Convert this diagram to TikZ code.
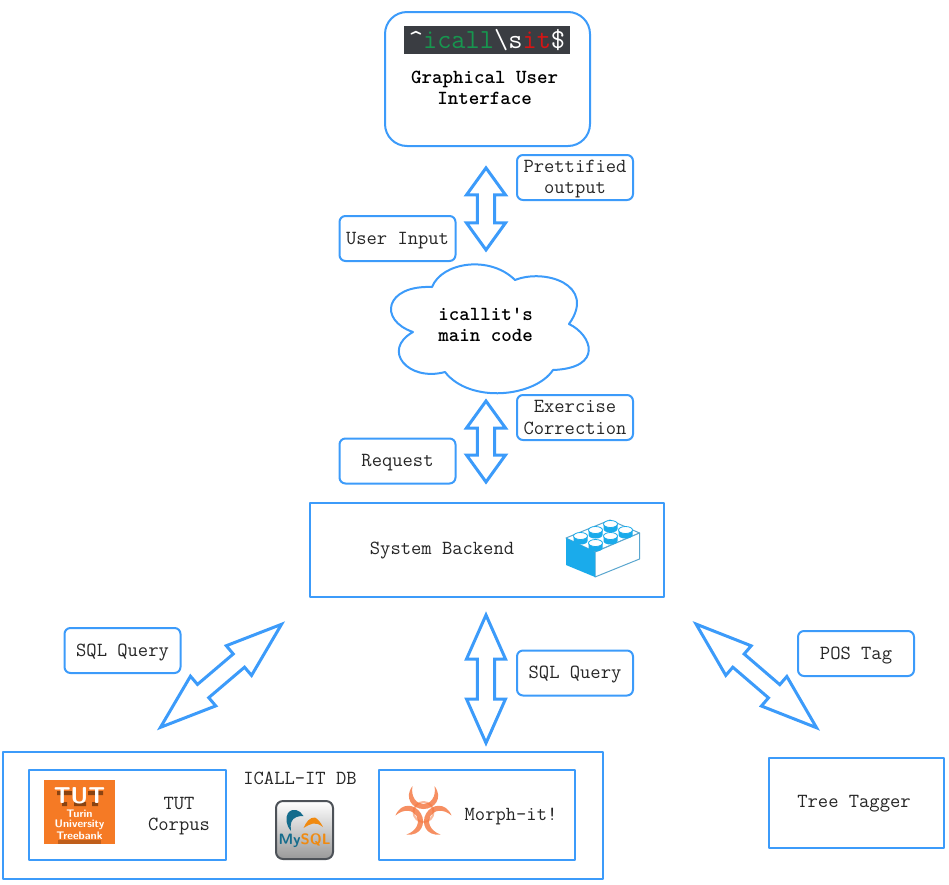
\documentclass[tikz,border=0pt]{standalone}

\definecolor{linkblue}{HTML}{3C9BFA}
\definecolor{bannerdark}{HTML}{3A3D42}
\definecolor{bannergreen}{HTML}{17964F}
\definecolor{bannerred}{HTML}{D81414}
\definecolor{legoblue}{HTML}{1AABEB}
\definecolor{legoline}{HTML}{5AA6CF}
\definecolor{tutorange}{HTML}{F57A25}
\definecolor{tutbrown}{HTML}{8A4312}
\definecolor{sqlblue}{HTML}{156C8C}
\definecolor{sqlorange}{HTML}{F08A10}
\definecolor{sqlframe}{HTML}{4D5258}
\definecolor{biohazard}{HTML}{F4743B}

\tikzset{
  plaintext/.style={font=\ttfamily\fontsize{20}{21}\selectfont, align=center, inner sep=0pt, text=black!85},
  boldtext/.style={font=\ttfamily\bfseries\fontsize{20}{21}\selectfont, align=center, inner sep=0pt},
  framebox/.style={draw=linkblue, line width=2pt, fill=white, inner sep=0pt},
  tagbox/.style={draw=linkblue, line width=2pt, rounded corners=6pt, minimum width=116pt, minimum height=45pt},
  arrowline/.style={draw=linkblue, line width=3pt, fill=white, line join=miter, miter limit=6},
  logotext/.style={font=\sffamily\bfseries\fontsize{#1}{#1}\selectfont, text=white, inner sep=0pt}
}

% name, centre, angle, half length, head length
\newcommand{\twoway}[5]{
  \coordinate (#1) at (#2);
  \draw[arrowline, shift={(#1)}, rotate=#3] (-#4,0) -- (-#4+#5,-19.5) -- (-#4+#5,-8.7) -- (#4-#5,-8.7) -- (#4-#5,-19.5)
    -- (#4,0) -- (#4-#5,19.5) -- (#4-#5,8.7) -- (-#4+#5,8.7) -- (-#4+#5,19.5) -- cycle;
}
% name, centre, text
\newcommand{\tagnode}[3]{
  \node[tagbox] (#1) at (#2) {};
  \node[plaintext, yshift=-2pt] (#1text) at (#1) {#3};
}

\begin{document}
\begin{tikzpicture}[x=1pt,y=-1pt, line join=round]
  \useasboundingbox (0,0) rectangle (949,884);

  % graphical user interface
  \node[framebox, rounded corners=22pt, minimum width=205pt, minimum height=134pt] (gui) at (487.5,79) {};
  \node[fill=bannerdark, minimum width=166pt, minimum height=28pt, inner sep=0pt] (banner) at (487,40) {};
  \node[inner sep=0pt, font=\ttfamily\fontsize{27.6}{28}\selectfont, text=white] (bannertext) at (487,40)
    {\textasciicircum\textcolor{bannergreen}{icall}\textbackslash s\textcolor{bannerred}{it}\$};
  \node[boldtext] (guitext) at (484.5,88) {Graphical User\\Interface};

  % main code cloud
  \draw[draw=linkblue, line width=2pt, fill=white]
    (432,287) .. controls (442,262) and (490,255) .. (515,280)
    .. controls (545,268) and (597,285) .. (569,324)
    .. controls (592,335) and (604,368) .. (553,370)
    .. controls (535,397) and (470,404) .. (445,372)
    .. controls (408,382) and (381,350) .. (413,332)
    .. controls (378,320) and (385,285) .. (432,287) -- cycle;
  \node[boldtext] (cloudtext) at (485.5,325) {icallit's\\main code};

  % backend
  \node[framebox, minimum width=354pt, minimum height=94pt] (backend) at (487,550) {};
  \node[plaintext] (backendtext) at (442,551) {System Backend};
  \draw[legoline, fill=white, line width=1pt] (566,538) -- (595,552) -- (639.5,533) -- (610,520) -- cycle;
  \draw[legoline, fill=white, line width=1pt] (595,552) -- (639.5,533) -- (639.5,559) -- (595,577) -- cycle;
  \fill[legoblue] (566,538) -- (595,552) -- (595,577) -- (566,565) -- cycle;
  \foreach \studx/\study in {610.5/524,595.5/530,625.5/530,580.5/536,610.5/536,595.5/543}{
    \fill[legoblue] (\studx-7,\study) -- (\studx-7,\study+5) arc[start angle=180, end angle=360, x radius=7, y radius=-3.5] -- (\studx+7,\study) -- cycle;
    \draw[legoblue, line width=0.8pt, fill=white] (\studx,\study) ellipse[x radius=7, y radius=3.5];
  }

  % database box
  \node[framebox, minimum width=600pt, minimum height=127pt] (dbbox) at (303,815) {};
  \node[framebox, minimum width=197pt, minimum height=90pt] (tutbox) at (127.5,815) {};
  \node[framebox, minimum width=196pt, minimum height=90pt] (morphbox) at (477,815) {};
  \node[plaintext] (dbtext) at (300,778) {ICALL-IT DB};
  \node[plaintext] (tuttext) at (179,816) {TUT\\Corpus};
  \node[plaintext] (morphtext) at (511,816) {Morph-it!};

  % tut logo
  \node[fill=tutorange, minimum width=71pt, minimum height=64pt, inner sep=0pt] (tutlogo) at (79.5,812) {};
  \fill[tutbrown] (57,791) rectangle (72,795) (88,791) rectangle (103,795) (62,802) rectangle (67,806)
    (74,802) rectangle (86,806) (92,802) rectangle (98,806);
  \fill[tutbrown, opacity=0.5] (58,840) rectangle (101,844);
  \node[logotext=23] (tutname) at (79.5,796) {TUT};
  \node[logotext=11] (tutturin) at (79.5,814) {Turin};
  \node[logotext=11] (tutuni) at (79.5,825) {University};
  \node[logotext=11] (tutbank) at (79.5,836) {Treebank};

  % mysql logo
  \draw[draw=sqlframe, line width=2pt, rounded corners=7pt, top color=white, bottom color=black!40]
    (276,801) rectangle (333,859);
  \fill[sqlblue] (303.5,816) .. controls (300,810) and (293,807) .. (288,813)
    .. controls (285,818) and (286,825) .. (291,831) .. controls (290,824) and (291,819) .. (296.5,817) .. controls (299,816) and (301,816) .. cycle;
  \fill[sqlorange] (303.5,828) .. controls (306,822) and (310,817) .. (315,817.5)
    .. controls (318,819) and (321,823) .. (323,827) .. controls (319,824) and (316,823) .. (313,823.5) .. controls (310,824) and (307,826) .. cycle;
  \node[inner sep=0pt, font=\sffamily\bfseries\fontsize{15}{16}\selectfont, text=sqlblue] (sqltext) at (304.5,841)
    {My\textcolor{sqlorange}{SQL}};

  % biohazard sign
  \begin{scope}[shift={(423.5,812)}]
    \draw[biohazard, opacity=0.5, line width=2pt] (0,0) circle[radius=10];
    \foreach \rot in {0,120,240}{
      \begin{scope}[rotate=\rot]
        \fill[biohazard, opacity=0.8] (-11,-26) .. controls (-20,-14) and (-11,-3) .. (0,-3)
          .. controls (11,-3) and (20,-14) .. (11,-26)
          .. controls (13,-15) and (7,-8) .. (0,-8)
          .. controls (-7,-8) and (-13,-15) .. (-11,-26) -- cycle;
      \end{scope}
    }
  \end{scope}

  % tree tagger
  \node[framebox, minimum width=175pt, minimum height=90pt] (tagger) at (856.5,803) {};
  \node[plaintext] (taggertext) at (854,804) {Tree Tagger};

  % arrows
  \twoway{guiarrow}{486,208.9}{90}{41}{27}
  \twoway{codearrow}{486,441.5}{90}{40.5}{27}
  \twoway{dbarrow}{486,679}{90}{64}{44}
  \twoway{sqlarrow}{221,675.8}{40.4}{79.5}{56}
  \twoway{posarrow}{756.3,675.9}{-40.7}{79.5}{56}

  % arrow tags
  \tagnode{prettytag}{575,177.5}{Prettified\\output}
  \tagnode{inputtag}{397.5,238.5}{User Input}
  \node[tagbox] (correcttag) at (575,417.5) {};
  \node[plaintext] (correcttagtext) at (correcttag) {Exercise\\Correction};
  \tagnode{requesttag}{397.5,461}{Request}
  \tagnode{sqlleft}{122.5,650.5}{SQL Query}
  \tagnode{sqlright}{575,673}{SQL Query}
  \tagnode{postag}{856,653.5}{POS Tag}
\end{tikzpicture}
\end{document}
